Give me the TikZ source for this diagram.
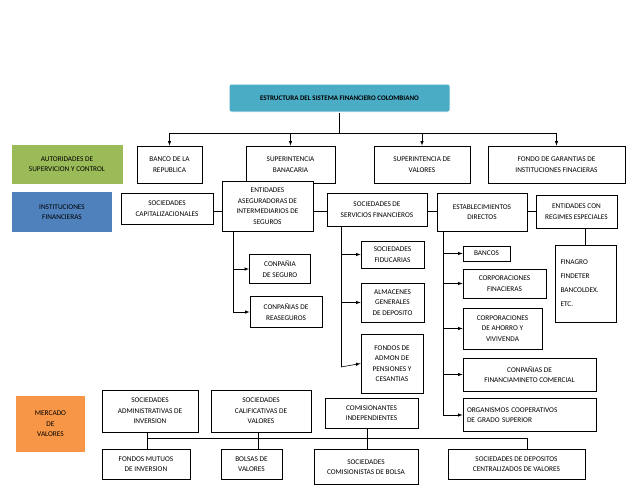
\documentclass[tikz,border=0pt]{standalone}
\usepackage{fontspec}
\setmainfont{Carlito}
\begin{document}
\begin{tikzpicture}[x=1pt,y=-1pt,
  bx/.style={draw=black,line width=0.8pt,fill=white,align=center,font=\fontsize{7.3}{10.5}\selectfont,inner sep=1pt},
  cat/.style={bx,line width=2.5pt,draw=#1,fill=#1,append after command={\pgfextra{\draw[white,line width=1pt] ([shift={(2.5,-2.5)}]\tikzlastnode.north west) rectangle ([shift={(-2.5,2.5)}]\tikzlastnode.south east);}}},
  ar/.style={-latex,line width=0.6pt},
  ln/.style={line width=0.6pt}]
\definecolor{tealc}{RGB}{75,172,198}
\definecolor{greenc}{RGB}{155,187,89}
\definecolor{bluec}{RGB}{79,129,189}
\definecolor{orangec}{RGB}{247,150,70}
\useasboundingbox (0,0) rectangle (638,493);
% title
\node[draw=white,line width=1pt,fill=tealc,rounded corners=2pt,minimum width=221,minimum height=28,font=\bfseries\fontsize{7}{8}\selectfont] (t) at (339.5,98) {ESTRUCTURA DEL SISTEMA FINANCIERO COLOMBIANO};
% row 1
\node[bx,minimum width=110,minimum height=38,fill=greenc,draw=greenc] (aut) at (67,164) {AUTORIDADES DE\\SUPERVICION Y CONTROL};
\node[bx,minimum width=65,minimum height=37] (b1) at (169.5,164.5) {BANCO DE LA\\REPUBLICA};
\node[bx,minimum width=89,minimum height=37] (b2) at (290.5,164.5) {SUPERINTENCIA\\BANACARIA};
\node[bx,minimum width=96,minimum height=37] (b3) at (422,164.5) {SUPERINTENCIA DE\\VALORES};
\node[bx,minimum width=137,minimum height=37] (b4) at (556.5,164.5) {FONDO DE GARANTIAS DE\\INSTITUCIONES FINACIERAS};
\coordinate (tj) at (t.south |- 0,133);
\draw[ln] (t.south) -- (tj);
\draw[ln] (b1.north |- tj) -- (b4.north |- tj);
\foreach \n in {b1,b2,b3,b4} \draw[ar] (\n.north |- tj) -- (\n.north);
% row 2
\node[cat=bluec,minimum width=98,minimum height=38] (inst) at (62,212) {INSTITUCIONES\\FINANCIERAS};
\node[bx,minimum width=92,minimum height=31] (c1) at (167,208.5) {SOCIEDADES\\CAPITALIZACIONALES};
\node[bx,minimum width=91,minimum height=50] (c2) at (267.5,206) {ENTIDADES\\ASEGURADORAS DE\\INTERMEDIARIOS DE\\SEGUROS};
\node[bx,minimum width=100,minimum height=33] (c3) at (377,209.5) {SOCIEDADES DE\\SERVICIOS FINANCIEROS};
\node[bx,minimum width=90,minimum height=38] (c4) at (482,212) {ESTABLECIMIENTOS\\DIRECTOS};
\node[bx,minimum width=81,minimum height=33] (c5) at (576.5,211.5) {ENTIDADES CON\\REGIMES ESPECIALES};
\draw[ln] (c1.east |- 0,211) -- (c2.west |- 0,211);
\draw[ln] (c2.east |- 0,211) -- (c3.west |- 0,211);
\draw[ln] (c3.east |- 0,211) -- (c4.west |- 0,211);
\draw[ln] (c4.east |- 0,211) -- (c5.west |- 0,211);
% aseguradoras
\node[bx,minimum width=61,minimum height=29] (d1) at (280,269) {CONPAÑIA\\DE SEGURO};
\node[bx,minimum width=72,minimum height=31] (d2) at (286,312) {CONPAÑIAS DE\\REASEGUROS};
\draw[ln] (233,0 |- c2.south) -- (233,312);
\draw[ar] (233,269) -- (d1.west);
\draw[ar] (233,312) -- (d2.west);
% servicios
\node[bx,minimum width=63,minimum height=27] (e1) at (392.5,254.5) {SOCIEDADES\\FIDUCARIAS};
\node[bx,minimum width=63,minimum height=39] (e2) at (392.5,302.5) {ALMACENES\\GENERALES\\DE DEPOSITO};
\node[bx,minimum width=62,minimum height=59] (e3) at (392,363.5) {FONDOS DE\\ADMON DE\\PENSIONES Y\\CESANTIAS};
\draw[ln] (341,0 |- c3.south) -- (341,367);
\draw[ar] (341,254.5) -- (e1.west);
\draw[ar] (341,302.5) -- (e2.west);
\draw[ar] (341,367) -- (e3.west);
% establecimientos
\node[bx,minimum width=47,minimum height=15] (f1) at (486.5,253.5) {BANCOS};
\node[bx,minimum width=83,minimum height=29] (f2) at (504.5,283.5) {CORPORACIONES\\FINACIERAS};
\node[bx,minimum width=79,minimum height=41] (f3) at (502.5,328.5) {CORPORACIONES\\DE AHORRO Y\\VIVIVENDA};
\node[bx,minimum width=133,minimum height=33] (f4) at (529.5,374.5) {CONPAÑIAS DE\\FINANCIAMINETO COMERCIAL};
\node[bx,minimum width=133,minimum height=33,align=left,text width=125] (f5) at (529.5,415) {ORGANISMOS COOPERATIVOS\\DE GRADO SUPERIOR};
\draw[ln] (443,0 |- c4.south) -- (443,415);
\foreach \n in {f1,f2,f3,f4,f5} \draw[ar] (443,0 |- \n.west) -- (\n.west);
% especiales
\node[bx,minimum width=61,minimum height=77,align=left,text width=50,font=\fontsize{7.3}{14}\selectfont] (g1) at (585.5,283.5) {FINAGRO\\FINDETER\\BANCOLDEX.\\ETC.};
\draw[ln] (c5.south -| g1.north) -- (g1.north);
% mercado
\node[cat=orangec,minimum width=67,minimum height=54] (mer) at (50.5,424) {MERCADO\\DE\\VALORES};
\node[bx,minimum width=96,minimum height=42] (h1) at (150,411) {SOCIEDADES\\ADMINISTRATIVAS DE\\INVERSION};
\node[bx,minimum width=100,minimum height=42] (h2) at (261,411) {SOCIEDADES\\CALIFICATIVAS DE\\VALORES};
\node[bx,minimum width=93,minimum height=30] (h3) at (371.5,413) {COMISIONANTES\\INDEPENDIENTES};
\node[bx,minimum width=88,minimum height=30] (k1) at (146,464) {FONDOS MUTUOS\\DE INVERSION};
\node[bx,minimum width=61,minimum height=30] (k2) at (251.5,464) {BOLSAS DE\\VALORES};
\node[bx,minimum width=104,minimum height=35] (k3) at (366,467) {SOCIEDADES\\COMISIONISTAS DE BOLSA};
\node[bx,minimum width=137,minimum height=30] (k4) at (516.5,464) {SOCIEDADES DE DEPOSITOS\\CENTRALIZADOS DE VALORES};
\draw[ln] (147,438) -- (527,438);
\draw[ln] (147,0 |- h1.south) -- (147,0 |- k1.north);
\draw[ln] (258,0 |- h2.south) -- (258,0 |- k2.north);
\draw[ln] (367,0 |- h3.south) -- (367,0 |- k3.north);
\draw[ln] (527,438) -- (527,0 |- k4.north);
\end{tikzpicture}
\end{document}
